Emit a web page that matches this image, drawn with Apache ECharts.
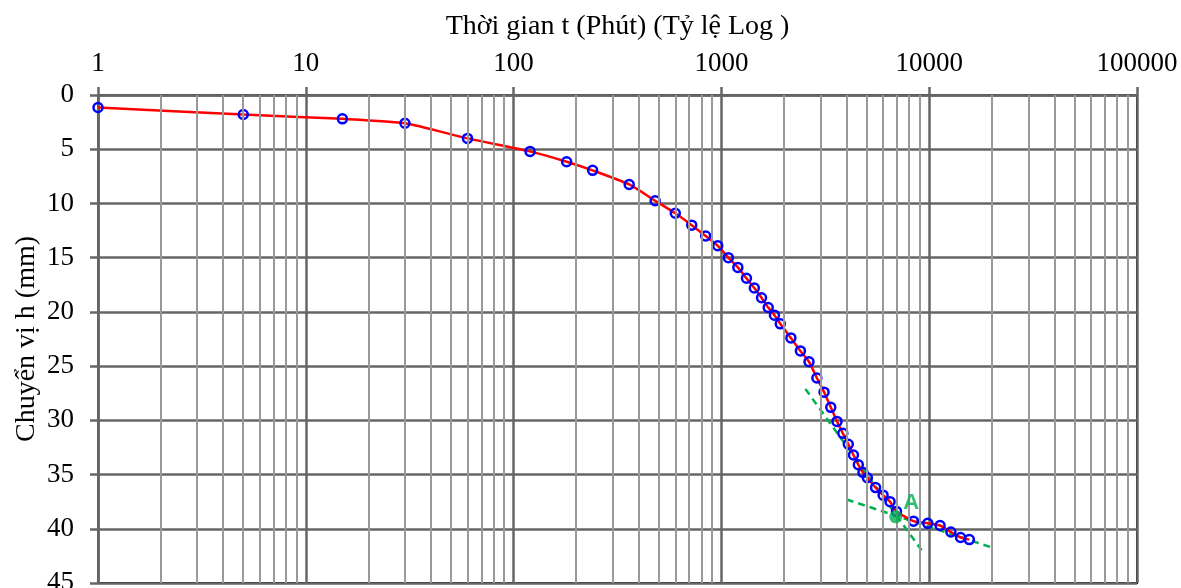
<!DOCTYPE html>
<html lang="vi">
<head>
  <meta charset="UTF-8">
  <title>Chuyển vị - thời gian</title>
  <style>
    html, body { margin: 0; padding: 0; background: #fff; }
    #chart { width: 1181px; height: 588px; }
  </style>
</head>
<body>
  <div id="chart"></div>
  <script src="https://cdn.jsdelivr.net/npm/echarts@6/dist/echarts.min.js"></script>
  <script>
    // số liệu
    const timeMin = [1, 5, 15, 30, 60, 120, 180, 240, 360, 480, 600, 720, 840, 960,
      1080, 1200, 1320, 1440, 1560, 1680, 1800, 1920, 2160, 2400, 2640, 2880, 3120,
      3360, 3600, 3840, 4080, 4320, 4560, 4800, 5040, 5520, 6000, 6480, 6960,
      8400, 9840, 11280, 12720, 14160, 15600];
    const dispMm = [1.15, 1.8, 2.2, 2.6, 4.0, 5.2, 6.15, 6.95, 8.25, 9.75, 10.9, 12.0, 13.0, 13.9,
      15.0, 15.9, 16.9, 17.8, 18.7, 19.6, 20.3, 21.1, 22.4, 23.6, 24.6, 26.1, 27.4,
      28.8, 30.1, 31.2, 32.2, 33.2, 34.1, 34.8, 35.3, 36.2, 36.9, 37.5, 38.4,
      39.3, 39.5, 39.7, 40.3, 40.8, 41.0];

    // hai đường tiếp tuyến và điểm A
    const tangent1 = [[2535, 27.1], [9370, 42.2]];
    const tangent2 = [[4010, 37.3], [20560, 41.8]];
    const pointA = [[6900, 38.9]];

    // lưới phụ trục log
    const decades = [1, 10, 100, 1000, 10000];
    const minorSteps = [2, 3, 4, 5, 6, 7, 8, 9];

    const minorLines = [];
    decades.forEach(d => minorSteps.forEach(m => minorLines.push({ xAxis: d * m })));

    const FONT = '"Liberation Serif", "Times New Roman", serif';

    let chart = echarts.init(document.getElementById('chart'));
    let option = {
      animation: false,
      grid: {
        left: 98, right: 44, top: 95, bottom: 5,
        outerBoundsMode: 'none',
        containLabel: false,
        show: true, borderColor: '#000', borderWidth: 2, backgroundColor: 'transparent'
      },
      xAxis: {
        type: 'log',
        logBase: 10,
        min: 1,
        max: 100000,
        position: 'top',
        name: 'Thời gian t (Phút) (Tỷ lệ Log )',
        nameLocation: 'middle',
        nameGap: 54,
        nameTextStyle: { fontFamily: FONT, fontSize: 28, color: '#000' },
        axisLine: { show: true, lineStyle: { color: '#666', width: 2.5 } },
        axisTick: { show: true, inside: false, length: 8, lineStyle: { color: '#666', width: 2.5 } },
        axisLabel: {
          fontFamily: FONT, fontSize: 27, color: '#000', margin: 18,
          formatter: v => String(Math.round(v))
        },
        splitLine: { show: true, lineStyle: { color: '#666', width: 2.5 } },
        minorTick: { show: false },
        minorSplitLine: { show: false }
      },
      yAxis: {
        type: 'value',
        inverse: true,
        min: 0,
        max: 45,
        interval: 5,
        name: 'Chuyển vị h (mm)',
        nameLocation: 'middle',
        nameGap: 57,
        nameMoveOverlap: false,
        nameRotate: 90,
        nameTextStyle: { fontFamily: FONT, fontSize: 28, color: '#000' },
        axisLine: { show: true, lineStyle: { color: '#666', width: 2.5 } },
        axisTick: { show: true, inside: false, length: 8, lineStyle: { color: '#666', width: 2.5 } },
        axisLabel: { fontFamily: FONT, fontSize: 27, color: '#000', margin: 24 },
        splitLine: { show: true, lineStyle: { color: '#666', width: 2.5 } }
      },
      series: [
        {
          // lưới phụ
          name: 'minor',
          type: 'line',
          data: [],
          silent: true,
          z: 1,
          markLine: {
            silent: true,
            symbol: ['none', 'none'],
            label: { show: false },
            lineStyle: { color: '#999', width: 2, type: 'solid' },
            data: minorLines
          }
        },
        {
          name: 'tiep tuyen 1',
          type: 'line',
          data: tangent1,
          symbol: 'none',
          z: 3,
          lineStyle: { color: '#00b050', width: 2.5, type: [7, 5] }
        },
        {
          name: 'tiep tuyen 2',
          type: 'line',
          data: tangent2,
          symbol: 'none',
          z: 3,
          lineStyle: { color: '#00b050', width: 2.5, type: [7, 5] }
        },
        {
          name: 'h',
          type: 'line',
          data: timeMin.map((t, i) => [t, dispMm[i]]),
          smooth: 0.2,
          z: 4,
          symbol: 'circle',
          symbolSize: 9,
          lineStyle: { color: '#ff0000', width: 2.5 },
          itemStyle: { color: 'rgba(255,255,255,0)', borderColor: '#0000ff', borderWidth: 2.5 }
        },
        {
          name: 'A',
          type: 'scatter',
          data: pointA,
          z: 5,
          symbol: 'circle',
          symbolSize: 13,
          itemStyle: { color: '#00b050' },
          label: {
            show: true,
            formatter: 'A',
            position: [14, -18],
            fontFamily: '"Liberation Sans", Arial, sans-serif',
            fontWeight: 'bold',
            fontSize: 22,
            color: '#00b050'
          }
        }
      ]
    };
    chart.setOption(option);
  </script>
</body>
</html>
